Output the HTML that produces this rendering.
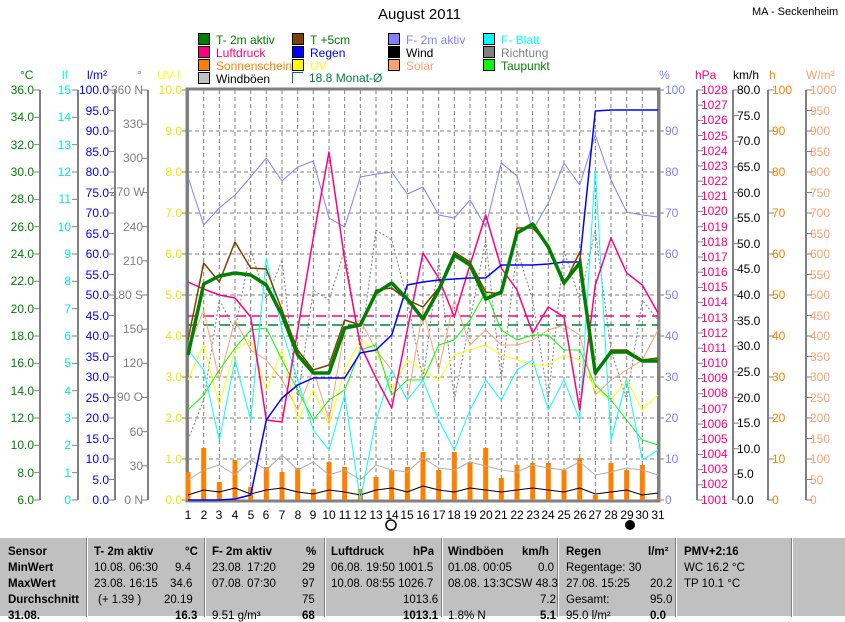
<!DOCTYPE html>
<html><head><meta charset="utf-8"><style>
body{margin:0;width:845px;height:615px;background:#fff;position:relative;overflow:hidden;font-family:"Liberation Sans",sans-serif;}
.ax{position:absolute;top:84px;height:422px;display:flex;flex-direction:column;justify-content:space-between;font-size:12px;line-height:12px;}
.ax div{height:12px;white-space:nowrap}
.r{text-align:right}
.lg{position:absolute;font-size:12px;line-height:13px;white-space:nowrap}
.lg i{display:inline-block;width:10px;height:10px;border:1px solid #000;vertical-align:-1px;margin-right:6px}
.tb{position:absolute;left:0;top:537px;width:845px;height:78px;background:#c0c0c0;font-size:11.5px;border-top:1px solid #fff}
.tb .c{position:absolute;top:0;height:79px;border-left:1px solid #fff;box-shadow:-1px 0 0 #808080}
.tb span{position:absolute;white-space:nowrap}
.b{font-weight:bold}
</style></head><body>
<div style="position:absolute;left:378px;top:6px;font-size:15px">August 2011</div>
<div style="position:absolute;left:752px;top:6px;font-size:11px">MA - Seckenheim</div>

<div class="lg" style="left:198px;top:33px;color:#008000"><i style="background:#008000"></i>T- 2m aktiv</div>
<div class="lg" style="left:292px;top:33px;color:#008000"><i style="background:#804000"></i>T +5cm</div>
<div class="lg" style="left:388px;top:33px;color:#8080ff"><i style="background:#8080ff"></i>F- 2m aktiv</div>
<div class="lg" style="left:483px;top:33px;color:#00ffff"><i style="background:#00ffff"></i>F- Blatt</div>
<div class="lg" style="left:198px;top:46px;color:#ff0080"><i style="background:#ff0080"></i>Luftdruck</div>
<div class="lg" style="left:292px;top:46px;color:#0000ff"><i style="background:#0000ff"></i>Regen</div>
<div class="lg" style="left:388px;top:46px;color:#000"><i style="background:#000"></i>Wind</div>
<div class="lg" style="left:483px;top:46px;color:#808080"><i style="background:#808080"></i>Richtung</div>
<div class="lg" style="left:198px;top:59px;color:#ff8000"><i style="background:#ff8000"></i>Sonnenschein</div>
<div class="lg" style="left:292px;top:59px;color:#ffff00"><i style="background:#ffff00"></i>UV</div>
<div class="lg" style="left:388px;top:59px;color:#ffa070"><i style="background:#ffa070"></i>Solar</div>
<div class="lg" style="left:483px;top:59px;color:#008000"><i style="background:#00ff00"></i>Taupunkt</div>
<div class="lg" style="left:198px;top:72px;color:#000"><i style="background:#c0c0c0"></i>Windböen</div>
<div class="lg" style="left:292px;top:72px;color:#008040"><i style="background:#fff;border-color:#008040;border-right:none;border-bottom:none"></i>18.8 Monat-Ø</div>

<div style="position:absolute;top:68px;left:0;width:845px;font-size:12px">
<span style="position:absolute;left:20px;color:#008000">°C</span>
<span style="position:absolute;left:62px;color:#00ffff">lf</span>
<span style="position:absolute;left:87px;color:#0000ff">l/m²</span>
<span style="position:absolute;left:137px;color:#808080">°</span>
<span style="position:absolute;left:157px;color:#ffff00">UV-I</span>
<span style="position:absolute;left:659px;color:#8080ff">%</span>
<span style="position:absolute;left:695px;color:#ff0080">hPa</span>
<span style="position:absolute;left:733px;color:#000">km/h</span>
<span style="position:absolute;left:769px;color:#ff8000">h</span>
<span style="position:absolute;left:806px;color:#ffa070">W/m²</span>
</div>

<div class="ax r" style="left:0;width:34px;color:#008000"><div>36.0</div><div>34.0</div><div>32.0</div><div>30.0</div><div>28.0</div><div>26.0</div><div>24.0</div><div>22.0</div><div>20.0</div><div>18.0</div><div>16.0</div><div>14.0</div><div>12.0</div><div>10.0</div><div>8.0</div><div>6.0</div></div>
<div class="ax r" style="left:40px;width:31px;color:#00e8e8"><div>15</div><div>14</div><div>13</div><div>12</div><div>11</div><div>10</div><div>9</div><div>8</div><div>7</div><div>6</div><div>5</div><div>4</div><div>3</div><div>2</div><div>1</div><div>0</div></div>
<div class="ax r" style="left:70px;width:39px;color:#0000ff"><div>100.0</div><div>95.0</div><div>90.0</div><div>85.0</div><div>80.0</div><div>75.0</div><div>70.0</div><div>65.0</div><div>60.0</div><div>55.0</div><div>50.0</div><div>45.0</div><div>40.0</div><div>35.0</div><div>30.0</div><div>25.0</div><div>20.0</div><div>15.0</div><div>10.0</div><div>5.0</div><div>0.0</div></div>
<div class="ax r" style="left:110px;width:33px;color:#808080"><div>360 N</div><div>330</div><div>300</div><div>270 W</div><div>240</div><div>210</div><div>180 S</div><div>150</div><div>120</div><div>90 O</div><div>60</div><div>30</div><div>0 N</div></div>
<div class="ax r" style="left:150px;width:32px;color:#e8e800"><div>10.0</div><div>9.0</div><div>8.0</div><div>7.0</div><div>6.0</div><div>5.0</div><div>4.0</div><div>3.0</div><div>2.0</div><div>1.0</div><div>0.0</div></div>
<div class="ax" style="left:665px;color:#8080ff"><div>100</div><div>90</div><div>80</div><div>70</div><div>60</div><div>50</div><div>40</div><div>30</div><div>20</div><div>10</div><div>0</div></div>
<div class="ax" style="left:701px;color:#ff0080"><div>1028</div><div>1027</div><div>1026</div><div>1025</div><div>1024</div><div>1023</div><div>1022</div><div>1021</div><div>1020</div><div>1019</div><div>1018</div><div>1017</div><div>1016</div><div>1015</div><div>1014</div><div>1013</div><div>1012</div><div>1011</div><div>1010</div><div>1009</div><div>1008</div><div>1007</div><div>1006</div><div>1005</div><div>1004</div><div>1003</div><div>1002</div><div>1001</div></div>
<div class="ax" style="left:737px;color:#000"><div>80.0</div><div>75.0</div><div>70.0</div><div>65.0</div><div>60.0</div><div>55.0</div><div>50.0</div><div>45.0</div><div>40.0</div><div>35.0</div><div>30.0</div><div>25.0</div><div>20.0</div><div>15.0</div><div>10.0</div><div>5.0</div><div>0.0</div></div>
<div class="ax" style="left:772px;color:#ff8000"><div>100</div><div>90</div><div>80</div><div>70</div><div>60</div><div>50</div><div>40</div><div>30</div><div>20</div><div>10</div><div>0</div></div>
<div class="ax" style="left:810px;color:#ffa070"><div>1000</div><div>950</div><div>900</div><div>850</div><div>800</div><div>750</div><div>700</div><div>650</div><div>600</div><div>550</div><div>500</div><div>450</div><div>400</div><div>350</div><div>300</div><div>250</div><div>200</div><div>150</div><div>100</div><div>50</div><div>0</div></div>

<svg id="s" width="845" height="536" style="position:absolute;left:0;top:0" xmlns="http://www.w3.org/2000/svg">
<g id="g"></g>
<g font-size="12" font-family="Liberation Sans" text-anchor="middle" fill="#000">
<text x="188" y="519">1</text><text x="204" y="519">2</text><text x="219" y="519">3</text><text x="235" y="519">4</text><text x="251" y="519">5</text><text x="266" y="519">6</text><text x="282" y="519">7</text><text x="298" y="519">8</text><text x="313" y="519">9</text><text x="329" y="519">10</text><text x="345" y="519">11</text><text x="360" y="519">12</text><text x="376" y="519">13</text><text x="392" y="519">14</text><text x="407" y="519">15</text><text x="423" y="519">16</text><text x="439" y="519">17</text><text x="454" y="519">18</text><text x="470" y="519">19</text><text x="486" y="519">20</text><text x="501" y="519">21</text><text x="517" y="519">22</text><text x="533" y="519">23</text><text x="548" y="519">24</text><text x="564" y="519">25</text><text x="580" y="519">26</text><text x="595" y="519">27</text><text x="611" y="519">28</text><text x="627" y="519">29</text><text x="642" y="519">30</text><text x="658" y="519">31</text>
</g>
<circle cx="391" cy="525" r="5" fill="#fff" stroke="#000" stroke-width="1.5"/>
<circle cx="630" cy="525" r="5" fill="#000"/>
</svg>

<div class="tb">
<div class="c" style="left:87px"></div><div class="c" style="left:205px"></div><div class="c" style="left:325px"></div><div class="c" style="left:442px"></div><div class="c" style="left:558px"></div><div class="c" style="left:676px"></div><div class="c" style="left:792px"></div>
<span class="b" style="left:8px;top:8px">Sensor</span><span class="b" style="left:8px;top:24px">MinWert</span><span class="b" style="left:8px;top:40px">MaxWert</span><span class="b" style="left:8px;top:56px">Durchschnitt</span><span class="b" style="left:8px;top:72px">31.08.</span>
<span class="b" style="left:94px;top:8px">T- 2m aktiv</span><span class="b" style="left:185px;top:8px">°C</span>
<span style="left:94px;top:24px">10.08.  06:30</span><span style="left:175px;top:24px">9.4</span>
<span style="left:94px;top:40px">23.08.  16:15</span><span style="left:170px;top:40px">34.6</span>
<span style="left:98px;top:56px">(+ 1.39 )</span><span style="left:164px;top:56px">20.19</span>
<span class="b" style="left:175px;top:72px">16.3</span>
<span class="b" style="left:212px;top:8px">F- 2m aktiv</span><span class="b" style="left:306px;top:8px">%</span>
<span style="left:212px;top:24px">23.08.  17:20</span><span style="left:302px;top:24px">29</span>
<span style="left:212px;top:40px">07.08.  07:30</span><span style="left:302px;top:40px">97</span>
<span style="left:302px;top:56px">75</span>
<span style="left:212px;top:72px">9.51 g/m³</span><span class="b" style="left:302px;top:72px">68</span>
<span class="b" style="left:331px;top:8px">Luftdruck</span><span class="b" style="left:413px;top:8px">hPa</span>
<span style="left:331px;top:24px">06.08.  19:50  1001.5</span>
<span style="left:331px;top:40px">10.08.  08:55  1026.7</span>
<span style="left:403px;top:56px">1013.6</span>
<span class="b" style="left:403px;top:72px">1013.1</span>
<span class="b" style="left:448px;top:8px">Windböen</span><span class="b" style="left:522px;top:8px">km/h</span>
<span style="left:448px;top:24px">01.08.  00:05</span><span style="left:538px;top:24px">0.0</span>
<span style="left:448px;top:40px">08.08.  13:3CSW 48.3</span>
<span style="left:540px;top:56px">7.2</span>
<span style="left:448px;top:72px">1.8% N</span><span class="b" style="left:540px;top:72px">5.1</span>
<span class="b" style="left:566px;top:8px">Regen</span><span class="b" style="left:648px;top:8px">l/m²</span>
<span style="left:566px;top:24px">Regentage: 30</span>
<span style="left:566px;top:40px">27.08.  15:25</span><span style="left:650px;top:40px">20.2</span>
<span style="left:566px;top:56px">Gesamt:</span><span style="left:650px;top:56px">95.0</span>
<span style="left:566px;top:72px">95.0 l/m²</span><span class="b" style="left:650px;top:72px">0.0</span>
<span class="b" style="left:684px;top:8px">PMV+2:16</span>
<span style="left:684px;top:24px">WC 16.2 °C</span>
<span style="left:684px;top:40px">TP 10.1 °C</span>
</div>

<script>
var NS="http://www.w3.org/2000/svg",g=document.getElementById("g");
function X(d){return 188+(d-1)*(470/30);}
function el(t,a){var e=document.createElementNS(NS,t);for(var k in a)e.setAttribute(k,a[k]);g.appendChild(e);return e;}
for(var d=2;d<=30;d++)el("line",{x1:X(d),y1:90,x2:X(d),y2:500,stroke:"#808080","stroke-dasharray":"4,3"});
for(var i=1;i<10;i++)el("line",{x1:188,y1:90+i*41,x2:658,y2:90+i*41,stroke:"#808080","stroke-dasharray":"4,3"});
function axis(x,n,left){el("line",{x1:x,y1:90,x2:x,y2:500,stroke:"#808080","stroke-width":2});for(var i=0;i<=n;i++){var y=90+i*410/n;el("line",{x1:left?x-6:x,y1:y,x2:left?x:x+6,y2:y,stroke:"#808080"});}}
axis(40,15,1);axis(78,15,1);axis(115,20,1);axis(148,12,1);axis(188,10,1);
axis(658,10,0);axis(697,27,0);axis(733,16,0);axis(768,10,0);axis(806,20,0);
el("rect",{x:187,y:89,width:472,height:412,fill:"none",stroke:"#808080","stroke-width":3});
var sun=[472,448,482,460,487,467,472,468,489,462,467,489,477,470,467,452,470,452,462,448,478,465,463,463,470,458,495,463,470,465,499];
sun.forEach(function(y,i){el("rect",{x:X(i+1)-2.5,y:y,width:5,height:500-y,fill:"#ff8000"});});
function pl(a,c,w,dash){var p=a.map(function(y,i){return X(i+1).toFixed(1)+","+y}).join(" ");var o={points:p,fill:"none",stroke:c,"stroke-width":w||1,"stroke-linejoin":"round"};if(dash)o["stroke-dasharray"]=dash;el("polyline",o);}
el("line",{x1:188,y1:316,x2:658,y2:316,stroke:"#ff0080","stroke-width":1.5,"stroke-dasharray":"10,6"});
el("line",{x1:188,y1:325,x2:658,y2:325,stroke:"#008040","stroke-width":1.5,"stroke-dasharray":"10,6"});
pl([440,400,300,330,250,300,260,400,290,300,250,350,230,240,300,380,260,400,320,240,380,250,300,400,250,300,230,350,400,300,320],"#808080",1,"2,2");
pl([480,470,465,475,460,470,455,470,462,475,470,480,465,470,472,458,468,470,462,466,470,472,465,468,470,462,475,472,468,470,475],"#b0b0b0",1);
pl([495,490,492,488,494,490,488,492,494,490,492,495,490,488,492,486,490,492,488,490,492,490,488,490,492,488,494,492,490,495,493],"#000",1);
pl([350,310,380,320,350,360,380,410,370,420,330,320,350,370,400,310,370,300,345,330,345,345,340,330,325,335,395,380,370,360,330],"#ffa070",1);
pl([380,345,405,350,340,390,350,420,390,425,370,340,350,390,360,370,380,355,350,345,355,360,365,365,355,360,390,400,380,410,395],"#ffff00",1);
pl([410,395,370,348,330,328,360,390,420,400,390,350,345,395,380,380,345,340,320,292,330,340,335,335,350,350,385,400,420,440,445],"#00ff00",1);
pl([350,370,440,360,420,258,330,380,430,450,395,500,420,370,400,380,420,450,410,380,400,370,360,410,380,420,170,440,380,460,450],"#00ffff",1);
pl([177,225,208,195,177,158,181,167,161,218,227,177,174,172,194,187,215,218,200,227,163,176,230,203,163,185,135,180,212,215,217],"#8080ff",1);
pl([282,289,295,298,317,420,422,330,238,152,260,345,378,408,330,253,278,317,265,215,268,290,333,307,317,410,285,238,273,285,313],"#ff0080",1.5);
pl([500,500,500,499,495,420,398,385,378,378,378,353,350,335,285,282,280,279,278,278,265,265,265,264,262,262,111,110,110,110,110],"#0000ff",1.5);
pl([340,263,282,242,268,269,310,350,370,365,320,325,290,288,300,307,288,252,262,292,294,228,228,245,285,252,375,350,350,360,358],"#804000",1.5);
pl([355,284,276,273,275,285,315,355,373,373,328,325,293,283,299,319,290,255,265,299,292,233,224,247,283,263,373,352,352,361,361],"#008000",3.5);
</script>
</body></html>
